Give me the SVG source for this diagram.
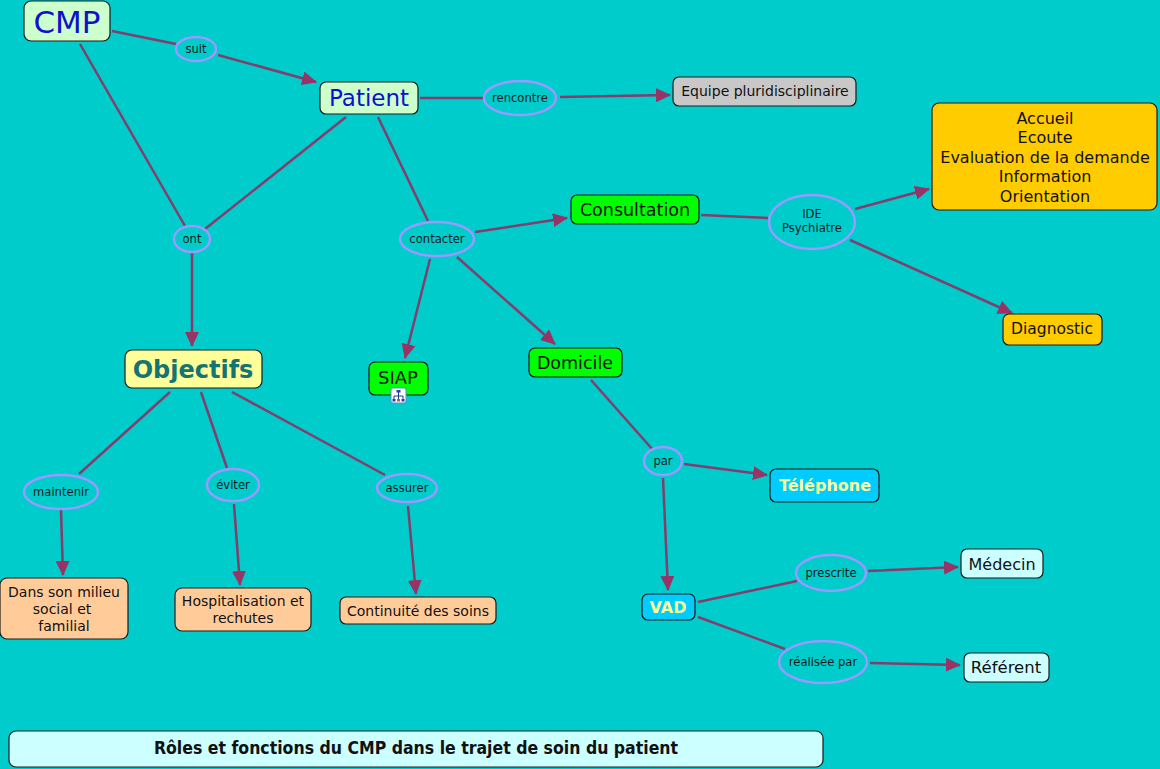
<svg xmlns="http://www.w3.org/2000/svg" width="1160" height="769" viewBox="0 0 1160 769">
<defs>
<marker id="arr" markerUnits="userSpaceOnUse" markerWidth="16" markerHeight="14" refX="14" refY="7" orient="auto">
<path d="M0,0 L15,7 L0,14 Z" fill="#993366"/>
</marker>
<style>
.c{stroke:#843d6c;stroke-width:2.5;fill:none}
.a{marker-end:url(#arr)}
.lp{fill:#00CCCC;stroke:#9999ff;stroke-width:2.5}
.lt{font-family:"DejaVu Sans",Verdana,sans-serif;font-size:11.6px;fill:#1a1a1a;text-anchor:middle}
.n{stroke:#1a1a1a;stroke-width:1.2}
.t{font-family:"DejaVu Sans",Verdana,sans-serif;text-anchor:middle;fill:#111}
</style>
</defs>
<rect width="1160" height="769" fill="#00CCCC"/>
<g id="connectors">
<line class="c" x1="112" y1="31" x2="176" y2="44"/>
<line class="c a" x1="218" y1="55" x2="316" y2="82"/>
<line class="c" x1="80" y1="44" x2="185" y2="226"/>
<line class="c" x1="346" y1="117" x2="205" y2="229"/>
<line class="c a" x1="192" y1="253" x2="192" y2="346"/>
<line class="c" x1="420" y1="98" x2="484" y2="98"/>
<line class="c a" x1="560" y1="97" x2="670" y2="95"/>
<line class="c" x1="378" y1="117" x2="428" y2="221"/>
<line class="c a" x1="475" y1="232" x2="567" y2="218"/>
<line class="c a" x1="430" y1="259" x2="405" y2="358"/>
<line class="c a" x1="457" y1="257" x2="555" y2="344"/>
<line class="c" x1="701" y1="215" x2="768" y2="218"/>
<line class="c a" x1="855" y1="209" x2="929" y2="189"/>
<line class="c a" x1="850" y1="240" x2="1012" y2="313"/>
<line class="c" x1="170" y1="392" x2="79" y2="474"/>
<line class="c" x1="201" y1="392" x2="227" y2="468"/>
<line class="c" x1="232" y1="392" x2="385" y2="475"/>
<line class="c a" x1="61" y1="510" x2="63" y2="575"/>
<line class="c a" x1="234" y1="504" x2="240" y2="585"/>
<line class="c a" x1="408" y1="506" x2="416" y2="594"/>
<line class="c" x1="591" y1="380" x2="653" y2="450"/>
<line class="c a" x1="684" y1="464" x2="767" y2="475"/>
<line class="c a" x1="663" y1="478" x2="668" y2="590"/>
<line class="c" x1="698" y1="602" x2="797" y2="581"/>
<line class="c a" x1="868" y1="571" x2="958" y2="567"/>
<line class="c" x1="698" y1="617" x2="785" y2="649"/>
<line class="c a" x1="870" y1="663" x2="960" y2="665"/>
</g>
<g id="lp-suit"><ellipse class="lp" cx="196" cy="49" rx="20" ry="12"/><text class="lt" x="196" y="53">suit</text></g>
<g id="lp-ont"><ellipse class="lp" cx="192" cy="239" rx="18" ry="13"/><text class="lt" x="192" y="243">ont</text></g>
<g id="lp-rencontre"><ellipse class="lp" cx="520" cy="98" rx="36" ry="17"/><text class="lt" x="520" y="102">rencontre</text></g>
<g id="lp-contacter"><ellipse class="lp" cx="437" cy="239" rx="37" ry="17"/><text class="lt" x="437" y="243">contacter</text></g>
<g id="lp-ide"><ellipse class="lp" cx="812" cy="222" rx="43" ry="27"/><text class="lt" x="812" y="218">IDE</text><text class="lt" x="812" y="232">Psychiatre</text></g>
<g id="lp-maintenir"><ellipse class="lp" cx="61" cy="492" rx="37" ry="17"/><text class="lt" x="61" y="496">maintenir</text></g>
<g id="lp-eviter"><ellipse class="lp" cx="233" cy="485" rx="26" ry="16"/><text class="lt" x="233" y="489">éviter</text></g>
<g id="lp-assurer"><ellipse class="lp" cx="407" cy="488" rx="30" ry="14"/><text class="lt" x="407" y="492">assurer</text></g>
<g id="lp-par"><ellipse class="lp" cx="663" cy="461" rx="19" ry="14"/><text class="lt" x="663" y="465">par</text></g>
<g id="lp-prescrite"><ellipse class="lp" cx="831" cy="573" rx="35" ry="18"/><text class="lt" x="831" y="577">prescrite</text></g>
<g id="lp-realisee"><ellipse class="lp" cx="823" cy="662" rx="44" ry="21"/><text class="lt" x="823" y="666">réalisée par</text></g>

<g id="n-cmp"><rect class="n" x="24" y="1" width="86" height="40" rx="7" fill="#CCFFCC"/><text class="t" x="67" y="33" font-size="31" style="fill:#1010cc">CMP</text></g>
<g id="n-patient"><rect class="n" x="320" y="82" width="98" height="32" rx="6" fill="#CCFFCC"/><text class="t" x="369" y="106" font-size="23" style="fill:#1010cc">Patient</text></g>
<g id="n-equipe"><rect class="n" x="673" y="77" width="183" height="29" rx="6" fill="#C8C8C8"/><text class="t" x="765" y="96" font-size="14">Equipe pluridisciplinaire</text></g>
<g id="n-accueil"><rect class="n" x="932" y="103" width="225" height="107" rx="7" fill="#FFCC00"/>
<text class="t" x="1045" y="124" font-size="16">Accueil</text>
<text class="t" x="1045" y="143" font-size="16">Ecoute</text>
<text class="t" x="1045" y="163" font-size="16">Evaluation de la demande</text>
<text class="t" x="1045" y="182" font-size="16">Information</text>
<text class="t" x="1045" y="202" font-size="16">Orientation</text></g>
<g id="n-consultation"><rect class="n" x="571" y="195" width="128" height="29" rx="6" fill="#00FF00"/><text class="t" x="635" y="216" font-size="17.5">Consultation</text></g>
<g id="n-diagnostic"><rect class="n" x="1003" y="314" width="99" height="31" rx="6" fill="#FFCC00"/><text class="t" x="1052" y="334" font-size="15.5">Diagnostic</text></g>
<g id="n-objectifs"><rect class="n" x="125" y="350" width="137" height="38" rx="7" fill="#FFFF99"/><text class="t" x="193" y="378" font-size="24" font-weight="bold" style="fill:#147373">Objectifs</text></g>
<g id="n-siap"><rect class="n" x="369" y="362" width="59" height="33" rx="6" fill="#00FF00"/><text class="t" x="398" y="384" font-size="18">SIAP</text>
<g id="siap-icon"><rect x="391" y="388" width="15" height="15" rx="2" fill="#ffffff" stroke="#6688cc" stroke-width="1"/>
<path d="M398.5,391 v3 M394,396 h9 M394,396 v3 M398.5,394 v5 M403,396 v3" stroke="#1a3a8a" stroke-width="1" fill="none"/>
<rect x="396.5" y="390" width="4" height="2.5" fill="#2244aa"/><rect x="392.5" y="399" width="3" height="2.5" fill="#2244aa"/><rect x="397" y="399" width="3" height="2.5" fill="#aa6622"/><rect x="401.5" y="399" width="3" height="2.5" fill="#2244aa"/></g></g>
<g id="n-domicile"><rect class="n" x="529" y="348" width="93" height="29" rx="6" fill="#00FF00"/><text class="t" x="575" y="369" font-size="17.5">Domicile</text></g>
<g id="n-telephone"><rect class="n" x="770" y="469" width="109" height="33" rx="6" fill="#00CCFF"/><text class="t" x="825" y="491" font-size="16" font-weight="bold" style="fill:#FFFF99">Téléphone</text></g>
<g id="n-vad"><rect class="n" x="642" y="594" width="53" height="26" rx="6" fill="#00CCFF"/><text class="t" x="668" y="613" font-size="16" font-weight="bold" style="fill:#FFFF99">VAD</text></g>
<g id="n-medecin"><rect class="n" x="961" y="549" width="82" height="29" rx="6" fill="#CCFFFF"/><text class="t" x="1002" y="570" font-size="16">Médecin</text></g>
<g id="n-referent"><rect class="n" x="964" y="653" width="85" height="29" rx="6" fill="#CCFFFF"/><text class="t" x="1006" y="673" font-size="16.5">Référent</text></g>
<g id="n-dans"><rect class="n" x="0" y="578" width="128" height="61" rx="7" fill="#FFCC99"/>
<text class="t" x="64" y="597" font-size="14">Dans son milieu</text>
<text class="t" x="62" y="614" font-size="14">social et</text>
<text class="t" x="64" y="631" font-size="14">familial</text></g>
<g id="n-hosp"><rect class="n" x="175" y="588" width="136" height="43" rx="7" fill="#FFCC99"/>
<text class="t" x="243" y="606" font-size="14">Hospitalisation et</text>
<text class="t" x="243" y="623" font-size="14">rechutes</text></g>
<g id="n-continuite"><rect class="n" x="340" y="597" width="156" height="27" rx="6" fill="#FFCC99"/><text class="t" x="418" y="616" font-size="14">Continuité des soins</text></g>
<g id="n-title"><rect class="n" x="9" y="731" width="814" height="36" rx="7" fill="#CCFFFF"/><text class="t" x="416" y="754" font-size="17.5" font-weight="bold" style="font-family:'DejaVu Sans Condensed','DejaVu Sans',sans-serif;font-stretch:condensed">Rôles et fonctions du CMP dans le trajet de soin du patient</text></g>
</svg>
